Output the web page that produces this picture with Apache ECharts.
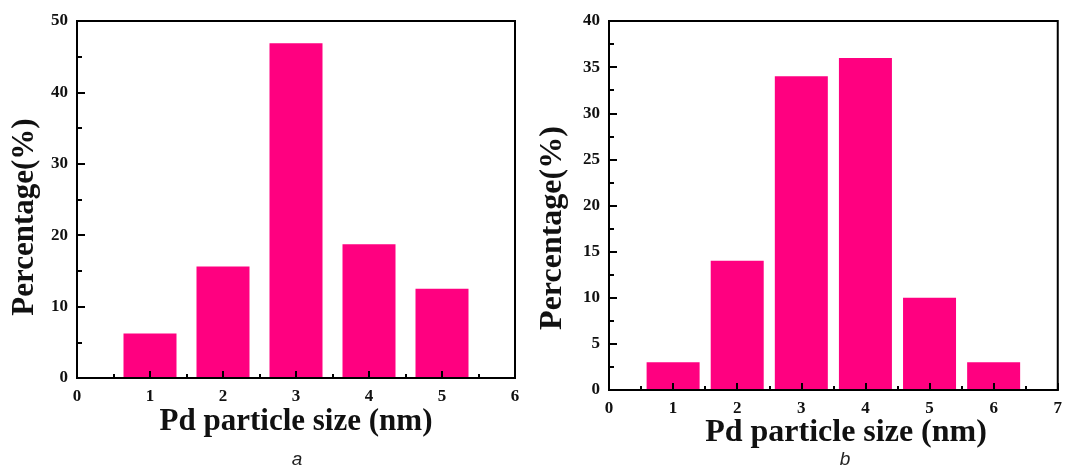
<!DOCTYPE html>
<html>
<head>
<meta charset="utf-8">
<script src="https://cdn.jsdelivr.net/npm/echarts@6/dist/echarts.min.js"></script>
<style>
  html, body { margin: 0; padding: 0; background: #fff; }
  #chart { width: 1065px; height: 468px; }
</style>
</head>
<body>
<div id="chart"></div>
<script>
// Panel a: particle size distribution
const sizesA = [1, 2, 3, 4, 5];
const percentA = [6.25, 15.625, 46.875, 18.75, 12.5];
const xMaxA = 6;
const yMaxA = 50;
const yStepA = 10;

// Panel b: particle size distribution
const sizesB = [1, 2, 3, 4, 5, 6];
const percentB = [3, 14, 34, 36, 10, 3];
const xMaxB = 7;
const yMaxB = 40;
const yStepB = 5;

const xTitle = 'Pd particle size (nm)';
const yTitle = 'Percentage(%)';
const captions = ['a', 'b'];

const serif = '"Liberation Serif", "DejaVu Serif", serif';
const barColor = '#ff0080';

// Axes sit above the bars so the inward ticks stay visible on them
function xAxisFor(gridIndex, max) {
  return {
    gridIndex, type: 'value', min: 0, max, interval: 1, z: 5,
    splitLine: { show: false },
    axisLine: { show: true, onZero: false, lineStyle: { color: '#000', width: 2 } },
    axisTick: { show: true, inside: true, length: 7, lineStyle: { color: '#000', width: 2 } },
    minorTick: { show: true, splitNumber: 2, length: 4, lineStyle: { color: '#000', width: 2 } },
    axisLabel: {
      margin: 10, color: '#111', fontFamily: serif, fontWeight: 'bold', fontSize: 17,
      showMinLabel: true, showMaxLabel: true
    }
  };
}

function yAxisFor(gridIndex, max, step) {
  return {
    gridIndex, type: 'value', min: 0, max, interval: step, z: 5,
    splitLine: { show: false },
    axisLine: { show: true, lineStyle: { color: '#000', width: 2 } },
    axisTick: { show: true, inside: true, length: 8, lineStyle: { color: '#000', width: 2 } },
    minorTick: { show: true, splitNumber: 2, length: 5, lineStyle: { color: '#000', width: 2 } },
    axisLabel: {
      margin: 9, color: '#111', fontFamily: serif, fontWeight: 'bold', fontSize: 17,
      showMinLabel: true, showMaxLabel: true
    }
  };
}

function pairs(xs, ys) {
  return xs.map((x, i) => [x, ys[i]]);
}

function titleText(x, y, text, size, rotated) {
  return {
    type: 'text', x, y, rotation: rotated ? Math.PI / 2 : 0,
    style: {
      text, fill: '#111', font: 'bold ' + size + 'px ' + serif,
      textAlign: 'center', textVerticalAlign: 'middle'
    }
  };
}

function caption(x, y, text) {
  return {
    type: 'text', x, y,
    style: {
      text, fill: '#222', font: 'italic 19px "Liberation Sans", Arial, sans-serif',
      textAlign: 'center', textVerticalAlign: 'middle'
    }
  };
}

const chart = echarts.init(document.getElementById('chart'), null, { renderer: 'canvas' });

chart.setOption({
  backgroundColor: '#fff',
  animation: false,
  grid: [
    { left: 77, top: 21, width: 438, height: 357, show: true, borderColor: '#000', borderWidth: 2, backgroundColor: 'transparent' },
    { left: 609, top: 21, width: 451, height: 369, show: true, borderColor: '#000', borderWidth: 2, backgroundColor: 'transparent' }
  ],
  xAxis: [xAxisFor(0, xMaxA), xAxisFor(1, xMaxB)],
  yAxis: [yAxisFor(0, yMaxA, yStepA), yAxisFor(1, yMaxB, yStepB)],
  series: [
    {
      type: 'bar', xAxisIndex: 0, yAxisIndex: 0, barWidth: 53, z: 1,
      itemStyle: { color: barColor }, data: pairs(sizesA, percentA)
    },
    {
      type: 'bar', xAxisIndex: 1, yAxisIndex: 1, barWidth: 53, z: 1,
      itemStyle: { color: barColor }, data: pairs(sizesB, percentB)
    }
  ],
  graphic: [
    titleText(296, 422, xTitle, 31, false),
    titleText(25, 217, yTitle, 31, true),
    titleText(846, 433, xTitle, 32, false),
    titleText(553, 228, yTitle, 32, true),
    caption(297, 460, captions[0]),
    caption(845, 460, captions[1])
  ]
});
</script>
</body>
</html>
